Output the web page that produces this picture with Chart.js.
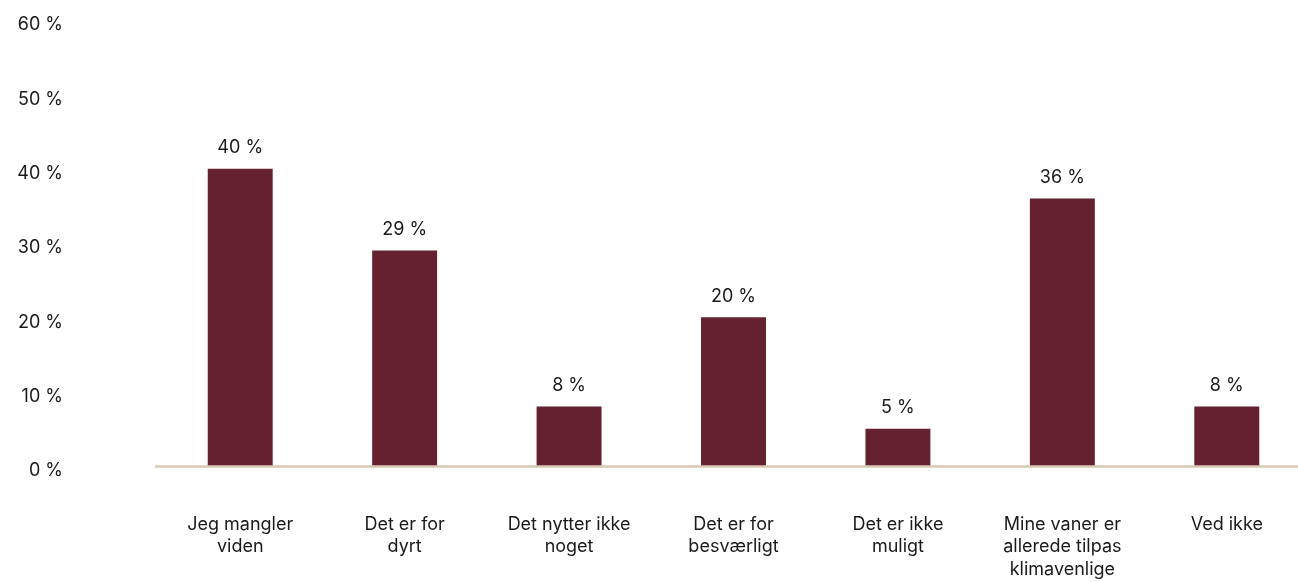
<!DOCTYPE html>
<html>
<head>
<meta charset="utf-8">
<script src="https://cdn.jsdelivr.net/npm/chart.js@4.4.1/dist/chart.umd.min.js"></script>
<style>
  html, body { margin: 0; padding: 0; background: #ffffff; overflow: hidden; }
  #wrap { position: relative; width: 1310px; height: 582px; }
</style>
</head>
<body>
<div id="wrap"><canvas id="chart"></canvas></div>
<script>
// Reasons given (multi-line category labels)
const categories = [
  ['Jeg mangler', 'viden'],
  ['Det er for', 'dyrt'],
  ['Det nytter ikke', 'noget'],
  ['Det er for', 'besværligt'],
  ['Det er ikke', 'muligt'],
  ['Mine vaner er', 'allerede tilpas', 'klimavenlige'],
  ['Ved ikke']
];
// Share of respondents, in percent
const shares = [40, 29, 8, 20, 5, 36, 8];
const yTicks = [0, 10, 20, 30, 40, 50, 60];

const FONT = 'Inter, "DejaVu Sans", sans-serif';
const TEXT = '#1a1a1a';
const BAR = '#65212f';
const BASE = '#d9c8b3';

// Value labels above each bar
const valueLabels = {
  id: 'valueLabels',
  afterDatasetsDraw(chart) {
    const ctx = chart.ctx;
    const meta = chart.getDatasetMeta(0);
    ctx.save();
    ctx.font = '18px ' + FONT;
    ctx.fillStyle = TEXT;
    ctx.textAlign = 'center';
    ctx.textBaseline = 'middle';
    meta.data.forEach((bar, i) => {
      ctx.fillText(shares[i] + ' %', bar.x, bar.y - 21);
    });
    ctx.restore();
  }
};

// Beige baseline along the zero value
const baseline = {
  id: 'baseline',
  afterDatasetsDraw(chart) {
    const ctx = chart.ctx;
    const y = chart.scales.y.getPixelForValue(0) + 0.5;
    ctx.save();
    ctx.strokeStyle = BASE;
    ctx.lineWidth = 2.4;
    ctx.beginPath();
    ctx.moveTo(155, y);
    ctx.lineTo(chart.width, y);
    ctx.stroke();
    ctx.restore();
  }
};

new Chart(document.getElementById('chart'), {
  type: 'bar',
  data: {
    labels: categories,
    datasets: [{
      data: shares,
      backgroundColor: BAR,
      borderWidth: 0,
      barPercentage: 0.395,
      categoryPercentage: 1
    }]
  },
  options: {
    responsive: true,
    maintainAspectRatio: false,
    animation: false,
    layout: { padding: { top: 20, right: 1, left: 0, bottom: 0 } },
    plugins: { legend: { display: false }, tooltip: { enabled: false } },
    scales: {
      x: {
        grid: { display: false, drawTicks: false },
        border: { display: false },
        ticks: {
          color: TEXT,
          font: { family: FONT, size: 18, lineHeight: 1.25 },
          padding: 47,
          maxRotation: 0,
          autoSkip: false
        },
        afterFit(scale) { scale.height = 116; }
      },
      y: {
        min: 0,
        max: 60,
        afterBuildTicks(scale) { scale.ticks = yTicks.map(v => ({ value: v })); },
        grid: { display: false, drawTicks: false },
        border: { display: false },
        ticks: {
          color: TEXT,
          font: { family: FONT, size: 18 },
          padding: 95,
          labelOffset: 5,
          callback: v => v + ' %'
        },
        afterFit(scale) {
          scale.width = 158;
          scale.paddingTop = 0;
          scale.paddingBottom = 0;
        }
      }
    }
  },
  plugins: [valueLabels, baseline]
});
</script>
</body>
</html>
